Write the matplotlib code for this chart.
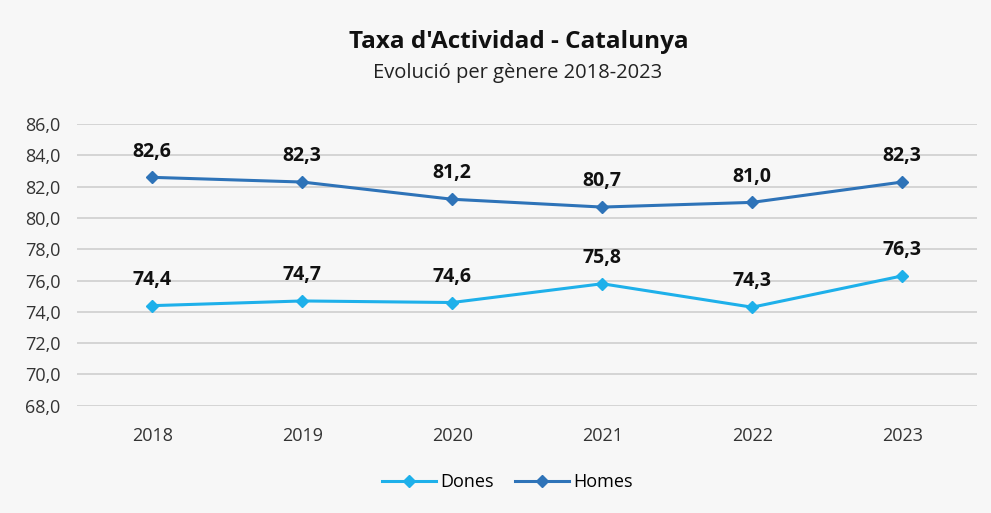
import matplotlib.pyplot as plt
from matplotlib.ticker import FuncFormatter

years = ["2018", "2019", "2020", "2021", "2022", "2023"]
dones = [74.4, 74.7, 74.6, 75.8, 74.3, 76.3]
homes = [82.6, 82.3, 81.2, 80.7, 81.0, 82.3]

plt.rcParams['font.family'] = ['Open Sans', 'DejaVu Sans']

bg = '#f7f7f7'
fig = plt.figure(figsize=(9.91, 5.13), dpi=100, facecolor=bg)
ax = fig.add_axes([0.078, 0.209, 0.908, 0.549], facecolor=bg)

x = range(len(years))
ax.plot(x, dones, color='#1eb0ea', lw=2.2, marker='D', ms=6, label='Dones')
ax.plot(x, homes, color='#2e73b8', lw=2.2, marker='D', ms=6, label='Homes')

for series in (dones, homes):
    for i, v in enumerate(series):
        ax.annotate(f"{v:.1f}".replace('.', ','), (i, v), xytext=(0, 15),
                    textcoords='offset points', ha='center', va='baseline',
                    fontsize=14, fontweight='bold', color='#111111')

ax.set_xlim(-0.5, len(years) - 0.5)
ax.set_ylim(68, 86)
ax.set_yticks(range(68, 87, 2))
ax.yaxis.set_major_formatter(FuncFormatter(lambda v, p: f"{v:.1f}".replace('.', ',')))
ax.set_xticks(list(x))
ax.set_xticklabels(years)
ax.grid(axis='y', color='#d5d5d5', lw=1.4)
ax.set_axisbelow(True)
for s in ax.spines.values():
    s.set_visible(False)
ax.tick_params(axis='both', length=0, labelsize=13, labelcolor='#333333')
ax.tick_params(axis='x', pad=15)
ax.tick_params(axis='y', pad=12)

fig.text(0.524, 0.918, "Taxa d'Actividad - Catalunya", ha='center', va='center',
         fontsize=17.5, fontweight='bold', color='#111111')
fig.text(0.522, 0.858, "Evolució per gènere 2018-2023", ha='center', va='center',
         fontsize=14.5, color='#222222')

fig.legend(loc='center', bbox_to_anchor=(0.512, 0.06), ncol=2, frameon=False,
           fontsize=13, handlelength=3, columnspacing=1.2, handletextpad=0.2)

fig.savefig('out.png', dpi=100, facecolor=bg)
